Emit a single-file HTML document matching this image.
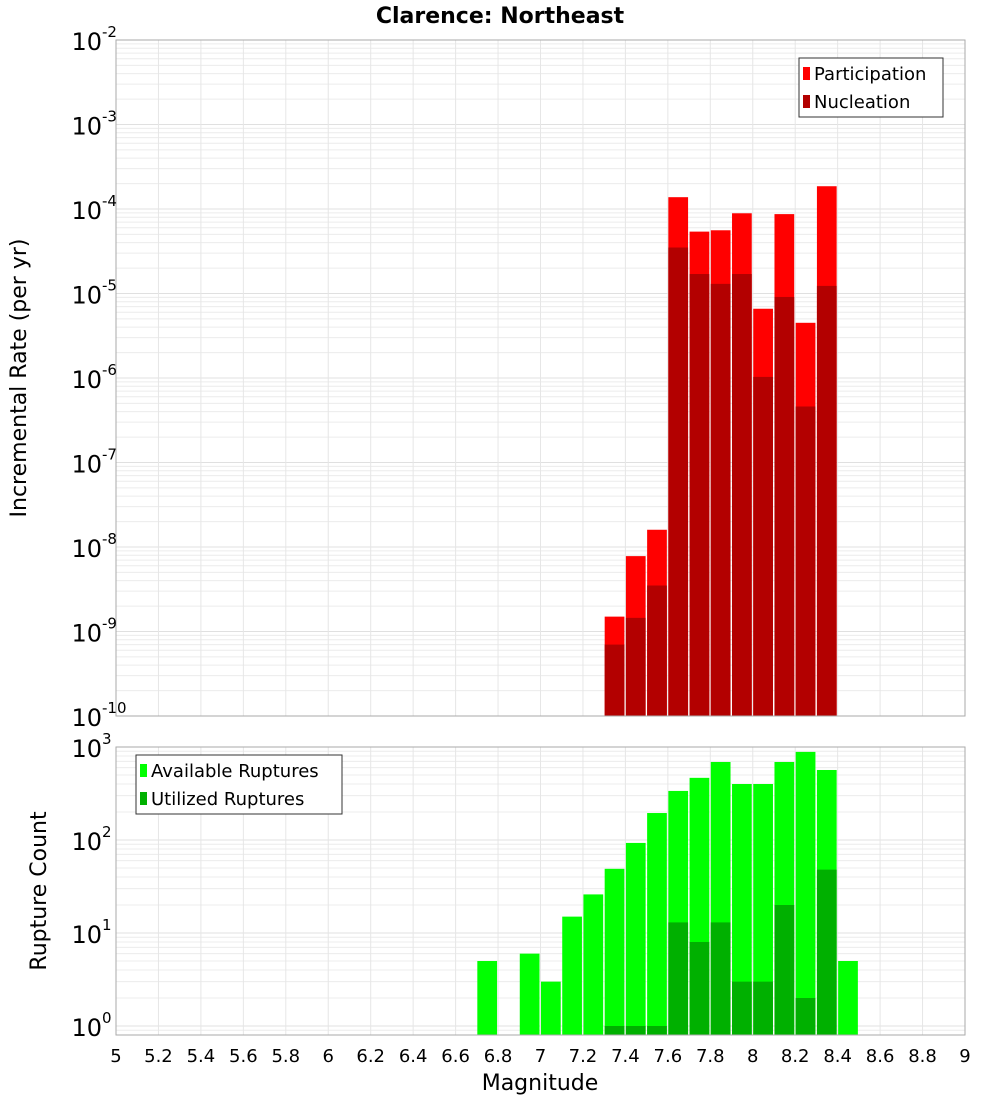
<!DOCTYPE html>
<html><head><meta charset="utf-8"><style>
body{margin:0;background:#fff;font-family:"DejaVu Sans","Liberation Sans",sans-serif}
svg text{font-family:"DejaVu Sans","Liberation Sans",sans-serif}
</style></head><body>
<svg id="c" width="1000" height="1100" xmlns="http://www.w3.org/2000/svg">
<text x="500" y="23" text-anchor="middle" font-size="22" font-weight="bold">Clarence: Northeast</text>
<g id="top"></g>
<g id="bot"></g>
<text x="540" y="1090" text-anchor="middle" font-size="22">Magnitude</text>
<text transform="translate(26,378) rotate(-90)" text-anchor="middle" font-size="22">Incremental Rate (per yr)</text>
<text transform="translate(46,891) rotate(-90)" text-anchor="middle" font-size="22">Rupture Count</text>
</svg>
<script>
const rateBins=[7.3,7.4,7.5,7.6,7.7,7.8,7.9,8.0,8.1,8.2,8.3];
const participation=[1.5e-9,7.8e-9,1.6e-8,1.38e-4,5.4e-5,5.6e-5,8.9e-5,6.6e-6,8.7e-5,4.5e-6,1.86e-4];
const nucleation=[7e-10,1.45e-9,3.5e-9,3.5e-5,1.7e-5,1.3e-5,1.7e-5,1.03e-6,9.1e-6,4.6e-7,1.23e-5];
const countBins=[6.7,6.9,7.0,7.1,7.2,7.3,7.4,7.5,7.6,7.7,7.8,7.9,8.0,8.1,8.2,8.3,8.4];
const available=[5,6,3,15,26,49,93,195,337,466,690,400,400,690,886,566,5];
const utilized=[0,0,0,0,0,1,1,1,13,8,13,3,3,20,2,48,0];
const xTicks=[5,5.2,5.4,5.6,5.8,6,6.2,6.4,6.6,6.8,7,7.2,7.4,7.6,7.8,8,8.2,8.4,8.6,8.8,9];

const NS="http://www.w3.org/2000/svg";
const X0=116,X1=965;
const sx=m=>X0+(m-5)/4*(X1-X0);
function mk(p,t,a){const e=document.createElementNS(NS,t);for(const k in a)e.setAttribute(k,a[k]);p.appendChild(e);return e;}
function panel(g,top,bot,lmin,lmax,name){
  const sy=v=>bot-(Math.log10(v)-lmin)/(lmax-lmin)*(bot-top);
  const grid=mk(g,'g',{});
  
  
  for(let d=Math.floor(lmin);d<lmax;d++)for(let k=1;k<10;k++){const v=k*Math.pow(10,d);const y=sy(v);if(y<top-0.5||y>bot+0.5)continue;
    mk(grid,'line',{x1:X0,x2:X1,y1:y,y2:y,stroke:k==1?'#e0e0e0':'#ececec','stroke-width':1});}
  xTicks.forEach(t=>{const x=sx(t);mk(grid,'line',{x1:x,x2:x,y1:top,y2:bot,stroke:'#e6e6e6','stroke-width':1});});
  return sy;
}
function bar(g,m,v,sy,bot,fill,name){
  if(v<=0)return;
  const x=sx(m)+0.5,w=sx(m+0.1)-sx(m)-1.5,y=Math.max(sy(v),0);
  const r=mk(g,'rect',{x:x,y:y,width:w,height:bot-y,fill:fill});
  
  
}
function ylabels(g,top,bot,lmin,lmax,sy,sz){
  for(let d=Math.ceil(lmin);d<=lmax;d++){const y=sy(Math.pow(10,d));
    const t=mk(g,'text',{x:102,y:y+10,'text-anchor':'end','font-size':sz});t.textContent='10';
    
    
    const s=mk(g,'text',{x:102,y:y-3,'font-size':15});s.textContent=String(d);
    
    }
}
function legend(g,x,y,w,items){
  const b=mk(g,'rect',{x:x,y:y,width:w,height:59,fill:'#fff',stroke:'#333','stroke-width':1});
  
  
  items.forEach((it,i)=>{const yy=y+15+i*28;
    mk(g,'rect',{x:x+4,y:yy-6,width:7,height:13,fill:it[1]});
    const t=mk(g,'text',{x:x+15,y:yy+7,'font-size':18});t.textContent=it[0];
    
    });
}
// top panel
const gt=document.getElementById('top');
const T0=40,T1=716;
const syT=panel(gt,T0,T1,-10,-2,'rate');
rateBins.forEach((m,i)=>bar(gt,m,participation[i],syT,T1,'#ff0000','participation-bar'));
rateBins.forEach((m,i)=>bar(gt,m,nucleation[i],syT,T1,'#b30000','nucleation-bar'));
mk(gt,'rect',{x:X0,y:T0,width:X1-X0,height:T1-T0,fill:'none',stroke:'#aaa'});
ylabels(gt,T0,T1,-10,-2,syT,24);
legend(gt,799,58,144,[['Participation','#ff0000'],['Nucleation','#b30000']]);
// bottom panel
const gb=document.getElementById('bot');
const B0=747,B1=1035;
const lminB=-(B1-1026)/((1026-B0)/3);
const syB=panel(gb,B0,B1,lminB,3,'count');
countBins.forEach((m,i)=>bar(gb,m,available[i],syB,B1,'#00ff00','available-bar'));
countBins.forEach((m,i)=>bar(gb,m,utilized[i],syB,B1,'#00b000','utilized-bar'));
mk(gb,'rect',{x:X0,y:B0,width:X1-X0,height:B1-B0,fill:'none',stroke:'#aaa'});
ylabels(gb,B0,B1,lminB,3,syB,24);
legend(gb,136,755,206,[['Available Ruptures','#00ff00'],['Utilized Ruptures','#00b000']]);
xTicks.forEach(t=>{const e=mk(gb,'text',{x:sx(t),y:1062,'text-anchor':'middle','font-size':18});
  e.textContent=String(t);
  
  });
</script>
</body></html>
